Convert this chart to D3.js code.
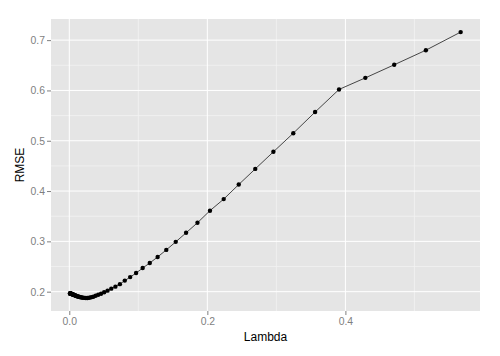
<!DOCTYPE html>
<html>
<head>
<meta charset="utf-8">
<script src="https://cdn.jsdelivr.net/npm/d3@7"></script>
<style>
  html, body { margin: 0; padding: 0; background: #fff; }
  svg { display: block; font-family: "Liberation Sans", Arial, sans-serif; }
</style>
</head>
<body>
<svg id="chart" width="500" height="356"></svg>
<script>
// Data
const lambda = [0.567, 0.5166, 0.4707, 0.4289, 0.3908, 0.3561, 0.3245, 0.2957, 0.2694, 0.2455,
  0.2237, 0.2038, 0.1857, 0.1692, 0.1542, 0.1405, 0.1280, 0.1166, 0.1063, 0.0968,
  0.0882, 0.0804, 0.0733, 0.0668, 0.0608, 0.0554, 0.0505, 0.0460, 0.0419, 0.0382,
  0.0348, 0.0317, 0.0289, 0.0263, 0.0240, 0.0219, 0.0199, 0.0182, 0.0165, 0.0151,
  0.0137, 0.0125, 0.0114, 0.0104, 0.0095, 0.0086, 0.0079, 0.0072, 0.0065, 0.0060,
  0.0054, 0.0049, 0.0045, 0.0041, 0.0037, 0.0034, 0.0031, 0.0028, 0.0026, 0.0024,
  0.0021, 0.0019, 0.0017, 0.0015, 0.0013, 0.0011, 0.0009];
const rmse = [0.716, 0.680, 0.651, 0.625, 0.602, 0.557, 0.515, 0.478, 0.444, 0.413,
  0.384, 0.361, 0.337, 0.317, 0.299, 0.283, 0.269, 0.257, 0.247, 0.237,
  0.229, 0.222, 0.215, 0.210, 0.206, 0.202, 0.199, 0.196, 0.194, 0.192,
  0.190, 0.189, 0.188, 0.1875, 0.1875, 0.1877, 0.188, 0.1885, 0.189, 0.1895,
  0.190, 0.1905, 0.191, 0.1915, 0.192, 0.1925, 0.193, 0.1933, 0.1937, 0.194,
  0.1943, 0.1946, 0.1949, 0.1951, 0.1953, 0.1955, 0.1957, 0.1958, 0.196, 0.196,
  0.1961, 0.1962, 0.1963, 0.1964, 0.1965, 0.1965, 0.1966];
const xTicks = [0.0, 0.2, 0.4];
const xMinor = [0.1, 0.3, 0.5];
const yTicks = [0.2, 0.3, 0.4, 0.5, 0.6, 0.7];
const yMinor = [0.25, 0.35, 0.45, 0.55, 0.65];
const xLabel = "Lambda";
const yLabel = "RMSE";

const data = lambda.map((l, i) => ({ x: l, y: rmse[i] }));

const svg = d3.select("#chart");
const panel = { left: 51, right: 480, top: 19, bottom: 311 };

const x = d3.scaleLinear().domain([-0.0265, 0.595]).range([panel.left, panel.right]);
const y = d3.scaleLinear().domain([0.1616, 0.742]).range([panel.bottom, panel.top]);

// panel background
svg.append("rect")
  .attr("x", panel.left).attr("y", panel.top)
  .attr("width", panel.right - panel.left).attr("height", panel.bottom - panel.top)
  .attr("fill", "#E5E5E5");

const grid = svg.append("g");
// minor grid
grid.selectAll(".xmin").data(xMinor).enter().append("line")
  .attr("x1", d => x(d)).attr("x2", d => x(d))
  .attr("y1", panel.top).attr("y2", panel.bottom)
  .attr("stroke", "#F2F2F2").attr("stroke-width", 0.8);
grid.selectAll(".ymin").data(yMinor).enter().append("line")
  .attr("y1", d => y(d)).attr("y2", d => y(d))
  .attr("x1", panel.left).attr("x2", panel.right)
  .attr("stroke", "#F2F2F2").attr("stroke-width", 0.8);
// major grid
grid.selectAll(".xmaj").data(xTicks).enter().append("line")
  .attr("x1", d => x(d)).attr("x2", d => x(d))
  .attr("y1", panel.top).attr("y2", panel.bottom)
  .attr("stroke", "#FFFFFF").attr("stroke-width", 1);
grid.selectAll(".ymaj").data(yTicks).enter().append("line")
  .attr("y1", d => y(d)).attr("y2", d => y(d))
  .attr("x1", panel.left).attr("x2", panel.right)
  .attr("stroke", "#FFFFFF").attr("stroke-width", 1);

// axes
const xAxis = d3.axisBottom(x).tickValues(xTicks).tickFormat(d3.format(".1f"))
  .tickSizeInner(4).tickSizeOuter(0).tickPadding(3);
const yAxis = d3.axisLeft(y).tickValues(yTicks).tickFormat(d3.format(".1f"))
  .tickSizeInner(4).tickSizeOuter(0).tickPadding(2);

const gx = svg.append("g").attr("transform", `translate(0,${panel.bottom})`).call(xAxis);
const gy = svg.append("g").attr("transform", `translate(${panel.left},0)`).call(yAxis);
[gx, gy].forEach(g => {
  g.select(".domain").remove();
  g.selectAll(".tick line").attr("stroke", "#7F7F7F");
  g.selectAll(".tick text").attr("fill", "#7F7F7F")
    .attr("font-size", "10.4px").attr("font-family", "Liberation Sans, Arial, sans-serif");
});

// line + points
const line = d3.line().x(d => x(d.x)).y(d => y(d.y));
svg.append("path").datum(data)
  .attr("d", line).attr("fill", "none")
  .attr("stroke", "#000").attr("stroke-width", 0.7);
svg.append("g").selectAll("circle").data(data).enter().append("circle")
  .attr("cx", d => x(d.x)).attr("cy", d => y(d.y)).attr("r", 2.2)
  .attr("fill", "#000");

// axis titles
svg.append("text")
  .attr("x", (panel.left + panel.right) / 2).attr("y", 341)
  .attr("text-anchor", "middle").attr("font-size", "12px").attr("fill", "#000")
  .text(xLabel);
svg.append("text")
  .attr("transform", `translate(24,${(panel.top + panel.bottom) / 2}) rotate(-90)`)
  .attr("text-anchor", "middle").attr("font-size", "12px").attr("fill", "#000")
  .text(yLabel);
</script>
</body>
</html>
